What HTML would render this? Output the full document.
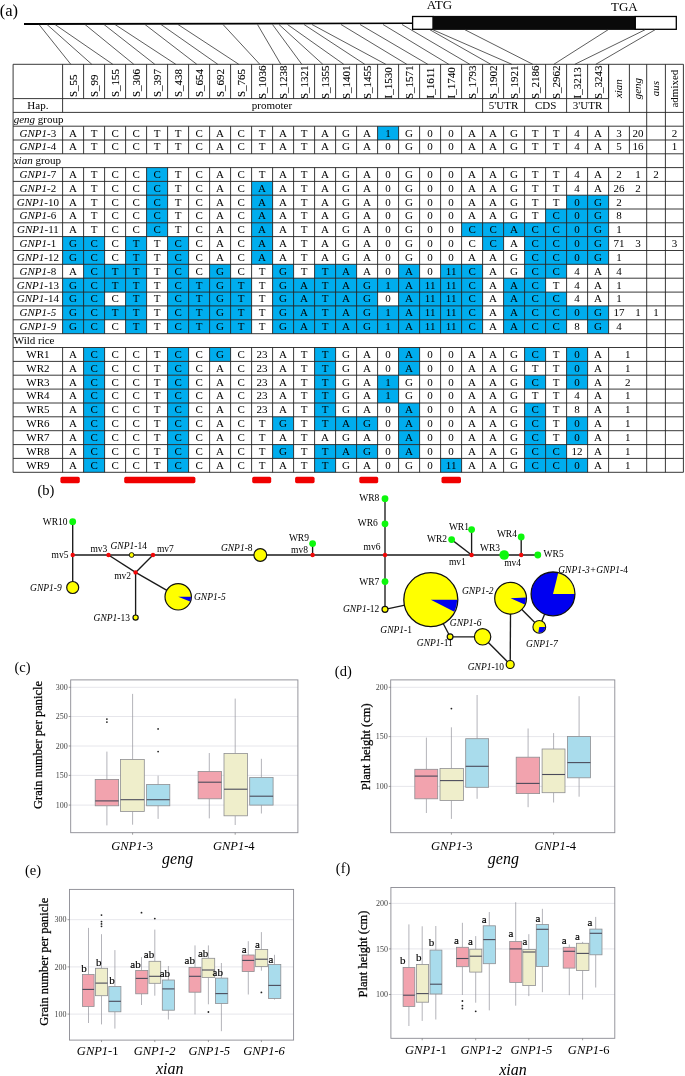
<!DOCTYPE html>
<html lang="en">
<head>
<meta charset="utf-8">
<title>GNP1 haplotype analysis</title>
<style>
html,body{margin:0;padding:0;background:#fff;}
body{width:685px;height:1076px;overflow:hidden;font-family:"Liberation Serif",serif;}
svg{display:block;}
svg text{font-family:"Liberation Serif",serif;}
</style>
</head>
<body>
<svg width="685" height="1076" viewBox="0 0 685 1076">
<rect width="685" height="1076" fill="#fff"/>
<g id="gene">
<path d="M24 23L413 22.6V24L24 25.1Z" fill="#000"/>
<rect x="412.6" y="16.5" width="20.4" height="12.8" fill="#fff" stroke="#000" stroke-width="1.3"/>
<rect x="433" y="15.9" width="202.3" height="14" fill="#0a0a0a"/>
<rect x="635.3" y="16.5" width="41" height="12.8" fill="#fff" stroke="#000" stroke-width="1.3"/>
<text x="439.5" y="9.3" font-size="13" text-anchor="middle">ATG</text>
<text x="624.3" y="10.8" font-size="13" text-anchor="middle">TGA</text>
<g stroke="#333" stroke-width="0.8">
<path d="M39 24.5L70.8 64.3"/>
<path d="M47 24.5L91.8 64.3"/>
<path d="M55 24.5L112.8 64.3"/>
<path d="M85 24.5L133.8 64.3"/>
<path d="M104 24.5L154.8 64.3"/>
<path d="M115 24.5L175.8 64.3"/>
<path d="M145 24.5L196.8 64.3"/>
<path d="M161 24.5L217.8 64.3"/>
<path d="M178 24.5L238.8 64.3"/>
<path d="M223 24.5L259.8 64.3"/>
<path d="M257.5 24.5L280.8 64.3"/>
<path d="M272.5 24.5L301.8 64.3"/>
<path d="M279 24.5L322.8 64.3"/>
<path d="M287.5 24.5L343.8 64.3"/>
<path d="M304 24.5L364.8 64.3"/>
<path d="M312 24.5L385.8 64.3"/>
<path d="M341 24.5L406.8 64.3"/>
<path d="M360 24.5L427.8 64.3"/>
<path d="M383 24.5L448.8 64.3"/>
<path d="M402 24.5L469.8 64.3"/>
<path d="M430 29.8L490.8 64.3"/>
<path d="M433 29.8L511.8 64.3"/>
<path d="M465 29.8L532.8 64.3"/>
<path d="M608 29.8L553.8 64.3"/>
<path d="M645 29.8L574.8 64.3"/>
<path d="M655 29.8L595.8 64.3"/>
</g></g>
<text x="8.8" y="16.1" font-size="16.5" text-anchor="middle">(a)</text>
<g id="table">
<g fill="#00adee">
<rect x="377.6" y="126.2" width="21" height="13.8"/>
<rect x="146.6" y="167.6" width="21" height="13.8"/>
<rect x="146.6" y="181.4" width="21" height="13.8"/>
<rect x="251.6" y="181.4" width="21" height="13.8"/>
<rect x="146.6" y="195.2" width="21" height="13.8"/>
<rect x="251.6" y="195.2" width="21" height="13.8"/>
<rect x="566.6" y="195.2" width="42" height="13.8"/>
<rect x="146.6" y="209" width="21" height="13.8"/>
<rect x="251.6" y="209" width="21" height="13.8"/>
<rect x="545.6" y="209" width="63" height="13.8"/>
<rect x="146.6" y="222.8" width="21" height="13.8"/>
<rect x="251.6" y="222.8" width="21" height="13.8"/>
<rect x="461.6" y="222.8" width="147" height="13.8"/>
<rect x="62.6" y="236.6" width="42" height="13.9"/>
<rect x="125.6" y="236.6" width="21" height="13.9"/>
<rect x="167.6" y="236.6" width="21" height="13.9"/>
<rect x="251.6" y="236.6" width="21" height="13.9"/>
<rect x="482.6" y="236.6" width="21" height="13.9"/>
<rect x="524.6" y="236.6" width="84" height="13.9"/>
<rect x="62.6" y="250.5" width="42" height="13.9"/>
<rect x="125.6" y="250.5" width="21" height="13.9"/>
<rect x="167.6" y="250.5" width="21" height="13.9"/>
<rect x="251.6" y="250.5" width="21" height="13.9"/>
<rect x="524.6" y="250.5" width="84" height="13.9"/>
<rect x="83.6" y="264.3" width="63" height="13.9"/>
<rect x="167.6" y="264.3" width="21" height="13.9"/>
<rect x="209.6" y="264.3" width="21" height="13.9"/>
<rect x="272.6" y="264.3" width="21" height="13.9"/>
<rect x="314.6" y="264.3" width="42" height="13.9"/>
<rect x="398.6" y="264.3" width="21" height="13.9"/>
<rect x="440.6" y="264.3" width="42" height="13.9"/>
<rect x="524.6" y="264.3" width="42" height="13.9"/>
<rect x="62.6" y="278.2" width="84" height="13.9"/>
<rect x="167.6" y="278.2" width="84" height="13.9"/>
<rect x="272.6" y="278.2" width="210" height="13.9"/>
<rect x="503.6" y="278.2" width="42" height="13.9"/>
<rect x="62.6" y="292.1" width="42" height="13.9"/>
<rect x="125.6" y="292.1" width="21" height="13.9"/>
<rect x="167.6" y="292.1" width="84" height="13.9"/>
<rect x="272.6" y="292.1" width="105" height="13.9"/>
<rect x="398.6" y="292.1" width="84" height="13.9"/>
<rect x="503.6" y="292.1" width="63" height="13.9"/>
<rect x="62.6" y="305.9" width="84" height="13.9"/>
<rect x="167.6" y="305.9" width="84" height="13.9"/>
<rect x="272.6" y="305.9" width="210" height="13.9"/>
<rect x="503.6" y="305.9" width="105" height="13.9"/>
<rect x="62.6" y="319.8" width="42" height="13.9"/>
<rect x="125.6" y="319.8" width="21" height="13.9"/>
<rect x="167.6" y="319.8" width="84" height="13.9"/>
<rect x="272.6" y="319.8" width="210" height="13.9"/>
<rect x="503.6" y="319.8" width="63" height="13.9"/>
<rect x="587.6" y="319.8" width="21" height="13.9"/>
<rect x="83.6" y="347.5" width="21" height="13.9"/>
<rect x="167.6" y="347.5" width="21" height="13.9"/>
<rect x="209.6" y="347.5" width="21" height="13.9"/>
<rect x="314.6" y="347.5" width="21" height="13.9"/>
<rect x="398.6" y="347.5" width="21" height="13.9"/>
<rect x="524.6" y="347.5" width="21" height="13.9"/>
<rect x="566.6" y="347.5" width="21" height="13.9"/>
<rect x="83.6" y="361.4" width="21" height="13.9"/>
<rect x="167.6" y="361.4" width="21" height="13.9"/>
<rect x="314.6" y="361.4" width="21" height="13.9"/>
<rect x="398.6" y="361.4" width="21" height="13.9"/>
<rect x="566.6" y="361.4" width="21" height="13.9"/>
<rect x="83.6" y="375.2" width="21" height="13.9"/>
<rect x="167.6" y="375.2" width="21" height="13.9"/>
<rect x="314.6" y="375.2" width="21" height="13.9"/>
<rect x="377.6" y="375.2" width="21" height="13.9"/>
<rect x="524.6" y="375.2" width="21" height="13.9"/>
<rect x="566.6" y="375.2" width="21" height="13.9"/>
<rect x="83.6" y="389.1" width="21" height="13.9"/>
<rect x="167.6" y="389.1" width="21" height="13.9"/>
<rect x="314.6" y="389.1" width="21" height="13.9"/>
<rect x="377.6" y="389.1" width="21" height="13.9"/>
<rect x="83.6" y="403" width="21" height="13.9"/>
<rect x="167.6" y="403" width="21" height="13.9"/>
<rect x="314.6" y="403" width="21" height="13.9"/>
<rect x="398.6" y="403" width="21" height="13.9"/>
<rect x="524.6" y="403" width="21" height="13.9"/>
<rect x="83.6" y="416.8" width="21" height="13.9"/>
<rect x="167.6" y="416.8" width="21" height="13.9"/>
<rect x="272.6" y="416.8" width="21" height="13.9"/>
<rect x="314.6" y="416.8" width="63" height="13.9"/>
<rect x="398.6" y="416.8" width="21" height="13.9"/>
<rect x="524.6" y="416.8" width="21" height="13.9"/>
<rect x="566.6" y="416.8" width="21" height="13.9"/>
<rect x="83.6" y="430.7" width="21" height="13.9"/>
<rect x="167.6" y="430.7" width="21" height="13.9"/>
<rect x="398.6" y="430.7" width="21" height="13.9"/>
<rect x="524.6" y="430.7" width="21" height="13.9"/>
<rect x="566.6" y="430.7" width="21" height="13.9"/>
<rect x="83.6" y="444.6" width="21" height="13.9"/>
<rect x="167.6" y="444.6" width="21" height="13.9"/>
<rect x="272.6" y="444.6" width="21" height="13.9"/>
<rect x="314.6" y="444.6" width="63" height="13.9"/>
<rect x="398.6" y="444.6" width="21" height="13.9"/>
<rect x="524.6" y="444.6" width="42" height="13.9"/>
<rect x="83.6" y="458.4" width="21" height="13.9"/>
<rect x="167.6" y="458.4" width="21" height="13.9"/>
<rect x="314.6" y="458.4" width="21" height="13.9"/>
<rect x="440.6" y="458.4" width="21" height="13.9"/>
<rect x="524.6" y="458.4" width="63" height="13.9"/>
</g>
<g stroke="#222" stroke-width="0.9" fill="none">
<path d="M13.1 64.3L683.4 64.3"/>
<path d="M13.1 98.6L608.6 98.6"/>
<path d="M13.1 112.4L683.4 112.4"/>
<path d="M13.1 126.2L683.4 126.2"/>
<path d="M13.1 140L683.4 140"/>
<path d="M13.1 153.8L683.4 153.8"/>
<path d="M13.1 167.6L683.4 167.6"/>
<path d="M13.1 181.4L683.4 181.4"/>
<path d="M13.1 195.2L683.4 195.2"/>
<path d="M13.1 209L683.4 209"/>
<path d="M13.1 222.8L683.4 222.8"/>
<path d="M13.1 236.6L683.4 236.6"/>
<path d="M13.1 250.5L683.4 250.5"/>
<path d="M13.1 264.3L683.4 264.3"/>
<path d="M13.1 278.2L683.4 278.2"/>
<path d="M13.1 292.1L683.4 292.1"/>
<path d="M13.1 305.9L683.4 305.9"/>
<path d="M13.1 319.8L683.4 319.8"/>
<path d="M13.1 333.7L683.4 333.7"/>
<path d="M13.1 347.5L683.4 347.5"/>
<path d="M13.1 361.4L683.4 361.4"/>
<path d="M13.1 375.2L683.4 375.2"/>
<path d="M13.1 389.1L683.4 389.1"/>
<path d="M13.1 403L683.4 403"/>
<path d="M13.1 416.8L683.4 416.8"/>
<path d="M13.1 430.7L683.4 430.7"/>
<path d="M13.1 444.6L683.4 444.6"/>
<path d="M13.1 458.4L683.4 458.4"/>
<path d="M13.1 472.3L683.4 472.3"/>
<path d="M13.1 64.3L13.1 472.3"/>
<path d="M683.4 64.3L683.4 472.3"/>
<path d="M646.7 64.3L646.7 472.3"/>
<path d="M665.4 64.3L665.4 472.3"/>
<path d="M62.6 64.3L62.6 98.6"/>
<path d="M83.6 64.3L83.6 98.6"/>
<path d="M104.6 64.3L104.6 98.6"/>
<path d="M125.6 64.3L125.6 98.6"/>
<path d="M146.6 64.3L146.6 98.6"/>
<path d="M167.6 64.3L167.6 98.6"/>
<path d="M188.6 64.3L188.6 98.6"/>
<path d="M209.6 64.3L209.6 98.6"/>
<path d="M230.6 64.3L230.6 98.6"/>
<path d="M251.6 64.3L251.6 98.6"/>
<path d="M272.6 64.3L272.6 98.6"/>
<path d="M293.6 64.3L293.6 98.6"/>
<path d="M314.6 64.3L314.6 98.6"/>
<path d="M335.6 64.3L335.6 98.6"/>
<path d="M356.6 64.3L356.6 98.6"/>
<path d="M377.6 64.3L377.6 98.6"/>
<path d="M398.6 64.3L398.6 98.6"/>
<path d="M419.6 64.3L419.6 98.6"/>
<path d="M440.6 64.3L440.6 98.6"/>
<path d="M461.6 64.3L461.6 98.6"/>
<path d="M482.6 64.3L482.6 98.6"/>
<path d="M503.6 64.3L503.6 98.6"/>
<path d="M524.6 64.3L524.6 98.6"/>
<path d="M545.6 64.3L545.6 98.6"/>
<path d="M566.6 64.3L566.6 98.6"/>
<path d="M587.6 64.3L587.6 98.6"/>
<path d="M608.6 64.3L608.6 98.6"/>
<path d="M608.6 64.3L608.6 112.4"/>
<path d="M629.4 64.3L629.4 112.4"/>
<path d="M62.6 98.6L62.6 112.4"/>
<path d="M482.6 98.6L482.6 112.4"/>
<path d="M524.6 98.6L524.6 112.4"/>
<path d="M566.6 98.6L566.6 112.4"/>
<path d="M62.6 126.2L62.6 153.8"/>
<path d="M83.6 126.2L83.6 153.8"/>
<path d="M104.6 126.2L104.6 153.8"/>
<path d="M125.6 126.2L125.6 153.8"/>
<path d="M146.6 126.2L146.6 153.8"/>
<path d="M167.6 126.2L167.6 153.8"/>
<path d="M188.6 126.2L188.6 153.8"/>
<path d="M209.6 126.2L209.6 153.8"/>
<path d="M230.6 126.2L230.6 153.8"/>
<path d="M251.6 126.2L251.6 153.8"/>
<path d="M272.6 126.2L272.6 153.8"/>
<path d="M293.6 126.2L293.6 153.8"/>
<path d="M314.6 126.2L314.6 153.8"/>
<path d="M335.6 126.2L335.6 153.8"/>
<path d="M356.6 126.2L356.6 153.8"/>
<path d="M377.6 126.2L377.6 153.8"/>
<path d="M398.6 126.2L398.6 153.8"/>
<path d="M419.6 126.2L419.6 153.8"/>
<path d="M440.6 126.2L440.6 153.8"/>
<path d="M461.6 126.2L461.6 153.8"/>
<path d="M482.6 126.2L482.6 153.8"/>
<path d="M503.6 126.2L503.6 153.8"/>
<path d="M524.6 126.2L524.6 153.8"/>
<path d="M545.6 126.2L545.6 153.8"/>
<path d="M566.6 126.2L566.6 153.8"/>
<path d="M587.6 126.2L587.6 153.8"/>
<path d="M608.6 126.2L608.6 153.8"/>
<path d="M62.6 167.6L62.6 333.7"/>
<path d="M83.6 167.6L83.6 333.7"/>
<path d="M104.6 167.6L104.6 333.7"/>
<path d="M125.6 167.6L125.6 333.7"/>
<path d="M146.6 167.6L146.6 333.7"/>
<path d="M167.6 167.6L167.6 333.7"/>
<path d="M188.6 167.6L188.6 333.7"/>
<path d="M209.6 167.6L209.6 333.7"/>
<path d="M230.6 167.6L230.6 333.7"/>
<path d="M251.6 167.6L251.6 333.7"/>
<path d="M272.6 167.6L272.6 333.7"/>
<path d="M293.6 167.6L293.6 333.7"/>
<path d="M314.6 167.6L314.6 333.7"/>
<path d="M335.6 167.6L335.6 333.7"/>
<path d="M356.6 167.6L356.6 333.7"/>
<path d="M377.6 167.6L377.6 333.7"/>
<path d="M398.6 167.6L398.6 333.7"/>
<path d="M419.6 167.6L419.6 333.7"/>
<path d="M440.6 167.6L440.6 333.7"/>
<path d="M461.6 167.6L461.6 333.7"/>
<path d="M482.6 167.6L482.6 333.7"/>
<path d="M503.6 167.6L503.6 333.7"/>
<path d="M524.6 167.6L524.6 333.7"/>
<path d="M545.6 167.6L545.6 333.7"/>
<path d="M566.6 167.6L566.6 333.7"/>
<path d="M587.6 167.6L587.6 333.7"/>
<path d="M608.6 167.6L608.6 333.7"/>
<path d="M62.6 347.5L62.6 472.3"/>
<path d="M83.6 347.5L83.6 472.3"/>
<path d="M104.6 347.5L104.6 472.3"/>
<path d="M125.6 347.5L125.6 472.3"/>
<path d="M146.6 347.5L146.6 472.3"/>
<path d="M167.6 347.5L167.6 472.3"/>
<path d="M188.6 347.5L188.6 472.3"/>
<path d="M209.6 347.5L209.6 472.3"/>
<path d="M230.6 347.5L230.6 472.3"/>
<path d="M251.6 347.5L251.6 472.3"/>
<path d="M272.6 347.5L272.6 472.3"/>
<path d="M293.6 347.5L293.6 472.3"/>
<path d="M314.6 347.5L314.6 472.3"/>
<path d="M335.6 347.5L335.6 472.3"/>
<path d="M356.6 347.5L356.6 472.3"/>
<path d="M377.6 347.5L377.6 472.3"/>
<path d="M398.6 347.5L398.6 472.3"/>
<path d="M419.6 347.5L419.6 472.3"/>
<path d="M440.6 347.5L440.6 472.3"/>
<path d="M461.6 347.5L461.6 472.3"/>
<path d="M482.6 347.5L482.6 472.3"/>
<path d="M503.6 347.5L503.6 472.3"/>
<path d="M524.6 347.5L524.6 472.3"/>
<path d="M545.6 347.5L545.6 472.3"/>
<path d="M566.6 347.5L566.6 472.3"/>
<path d="M587.6 347.5L587.6 472.3"/>
<path d="M608.6 347.5L608.6 472.3"/>
<path d="M629.4 126.2L629.4 153.8"/>
</g>
<clipPath id="hc"><rect x="62.6" y="64.3" width="546" height="34"/></clipPath>
<g font-size="11" clip-path="url(#hc)" stroke="#000" stroke-width="0.12">
<text transform="translate(76.8 97.0) rotate(-90)">S_55</text>
<text transform="translate(97.8 97.0) rotate(-90)">S_99</text>
<text transform="translate(118.8 97.0) rotate(-90)">S_155</text>
<text transform="translate(139.8 97.0) rotate(-90)">S_306</text>
<text transform="translate(160.8 97.0) rotate(-90)">S_397</text>
<text transform="translate(181.8 97.0) rotate(-90)">S_438</text>
<text transform="translate(202.8 97.0) rotate(-90)">S_654</text>
<text transform="translate(223.8 97.0) rotate(-90)">S_692</text>
<text transform="translate(244.8 97.0) rotate(-90)">S_765</text>
<text transform="translate(265.8 99.1) rotate(-90)">S_1036</text>
<text transform="translate(286.8 99.1) rotate(-90)">S_1238</text>
<text transform="translate(307.8 99.1) rotate(-90)">S_1321</text>
<text transform="translate(328.8 99.1) rotate(-90)">S_1355</text>
<text transform="translate(349.8 99.1) rotate(-90)">S_1401</text>
<text transform="translate(370.8 99.1) rotate(-90)">S_1455</text>
<text transform="translate(391.8 98.4) rotate(-90)">I_1530</text>
<text transform="translate(412.8 99.1) rotate(-90)">S_1571</text>
<text transform="translate(433.8 98.4) rotate(-90)">I_1611</text>
<text transform="translate(454.8 98.4) rotate(-90)">I_1740</text>
<text transform="translate(475.8 99.1) rotate(-90)">S_1793</text>
<text transform="translate(496.8 99.1) rotate(-90)">S_1902</text>
<text transform="translate(517.8 99.1) rotate(-90)">S_1921</text>
<text transform="translate(538.8 99.1) rotate(-90)">S_2186</text>
<text transform="translate(559.8 99.1) rotate(-90)">S_2962</text>
<text transform="translate(580.8 98.4) rotate(-90)">I_3213</text>
<text transform="translate(601.8 99.1) rotate(-90)">S_3243</text>
</g>
<g font-size="11" text-anchor="middle">
<text transform="translate(622.2 88.6) rotate(-90)" font-style="italic">xian</text>
<text transform="translate(641.2 88.6) rotate(-90)" font-style="italic">geng</text>
<text transform="translate(659.2 88.6) rotate(-90)" font-style="italic">aus</text>
<text transform="translate(677.8 88.6) rotate(-90)">admixed</text>
<text x="37.9" y="108.9">Hap.</text>
<text x="271.9" y="108.9">promoter</text>
<text x="503.6" y="108.9">5'UTR</text>
<text x="545.6" y="108.9">CDS</text>
<text x="587.6" y="108.9">3'UTR</text>
<text x="13.7" y="122.7" text-anchor="start"><tspan font-style="italic">geng</tspan> group</text>
<text x="37.9" y="136.5"><tspan font-style="italic">GNP1</tspan>-3</text>
<text x="73.1" y="136.5">A</text>
<text x="94.1" y="136.5">T</text>
<text x="115.1" y="136.5">C</text>
<text x="136.1" y="136.5">C</text>
<text x="157.1" y="136.5">T</text>
<text x="178.1" y="136.5">T</text>
<text x="199.1" y="136.5">C</text>
<text x="220.1" y="136.5">A</text>
<text x="241.1" y="136.5">C</text>
<text x="262.1" y="136.5">T</text>
<text x="283.1" y="136.5">A</text>
<text x="304.1" y="136.5">T</text>
<text x="325.1" y="136.5">A</text>
<text x="346.1" y="136.5">G</text>
<text x="367.1" y="136.5">A</text>
<text x="388.1" y="136.5">1</text>
<text x="409.1" y="136.5">G</text>
<text x="430.1" y="136.5">0</text>
<text x="451.1" y="136.5">0</text>
<text x="472.1" y="136.5">A</text>
<text x="493.1" y="136.5">A</text>
<text x="514.1" y="136.5">G</text>
<text x="535.1" y="136.5">T</text>
<text x="556.1" y="136.5">T</text>
<text x="577.1" y="136.5">4</text>
<text x="598.1" y="136.5">A</text>
<text x="619" y="136.5">3</text>
<text x="638" y="136.5">20</text>
<text x="674.4" y="136.5">2</text>
<text x="37.9" y="150.3"><tspan font-style="italic">GNP1</tspan>-4</text>
<text x="73.1" y="150.3">A</text>
<text x="94.1" y="150.3">T</text>
<text x="115.1" y="150.3">C</text>
<text x="136.1" y="150.3">C</text>
<text x="157.1" y="150.3">T</text>
<text x="178.1" y="150.3">T</text>
<text x="199.1" y="150.3">C</text>
<text x="220.1" y="150.3">A</text>
<text x="241.1" y="150.3">C</text>
<text x="262.1" y="150.3">T</text>
<text x="283.1" y="150.3">A</text>
<text x="304.1" y="150.3">T</text>
<text x="325.1" y="150.3">A</text>
<text x="346.1" y="150.3">G</text>
<text x="367.1" y="150.3">A</text>
<text x="388.1" y="150.3">0</text>
<text x="409.1" y="150.3">G</text>
<text x="430.1" y="150.3">0</text>
<text x="451.1" y="150.3">0</text>
<text x="472.1" y="150.3">A</text>
<text x="493.1" y="150.3">A</text>
<text x="514.1" y="150.3">G</text>
<text x="535.1" y="150.3">T</text>
<text x="556.1" y="150.3">T</text>
<text x="577.1" y="150.3">4</text>
<text x="598.1" y="150.3">A</text>
<text x="619" y="150.3">5</text>
<text x="638" y="150.3">16</text>
<text x="674.4" y="150.3">1</text>
<text x="13.7" y="164.1" text-anchor="start"><tspan font-style="italic">xian</tspan> group</text>
<text x="37.9" y="177.9"><tspan font-style="italic">GNP1</tspan>-7</text>
<text x="73.1" y="177.9">A</text>
<text x="94.1" y="177.9">T</text>
<text x="115.1" y="177.9">C</text>
<text x="136.1" y="177.9">C</text>
<text x="157.1" y="177.9">C</text>
<text x="178.1" y="177.9">T</text>
<text x="199.1" y="177.9">C</text>
<text x="220.1" y="177.9">A</text>
<text x="241.1" y="177.9">C</text>
<text x="262.1" y="177.9">T</text>
<text x="283.1" y="177.9">A</text>
<text x="304.1" y="177.9">T</text>
<text x="325.1" y="177.9">A</text>
<text x="346.1" y="177.9">G</text>
<text x="367.1" y="177.9">A</text>
<text x="388.1" y="177.9">0</text>
<text x="409.1" y="177.9">G</text>
<text x="430.1" y="177.9">0</text>
<text x="451.1" y="177.9">0</text>
<text x="472.1" y="177.9">A</text>
<text x="493.1" y="177.9">A</text>
<text x="514.1" y="177.9">G</text>
<text x="535.1" y="177.9">T</text>
<text x="556.1" y="177.9">T</text>
<text x="577.1" y="177.9">4</text>
<text x="598.1" y="177.9">A</text>
<text x="619" y="177.9">2</text>
<text x="638" y="177.9">1</text>
<text x="656" y="177.9">2</text>
<text x="37.9" y="191.7"><tspan font-style="italic">GNP1</tspan>-2</text>
<text x="73.1" y="191.7">A</text>
<text x="94.1" y="191.7">T</text>
<text x="115.1" y="191.7">C</text>
<text x="136.1" y="191.7">C</text>
<text x="157.1" y="191.7">C</text>
<text x="178.1" y="191.7">T</text>
<text x="199.1" y="191.7">C</text>
<text x="220.1" y="191.7">A</text>
<text x="241.1" y="191.7">C</text>
<text x="262.1" y="191.7">A</text>
<text x="283.1" y="191.7">A</text>
<text x="304.1" y="191.7">T</text>
<text x="325.1" y="191.7">A</text>
<text x="346.1" y="191.7">G</text>
<text x="367.1" y="191.7">A</text>
<text x="388.1" y="191.7">0</text>
<text x="409.1" y="191.7">G</text>
<text x="430.1" y="191.7">0</text>
<text x="451.1" y="191.7">0</text>
<text x="472.1" y="191.7">A</text>
<text x="493.1" y="191.7">A</text>
<text x="514.1" y="191.7">G</text>
<text x="535.1" y="191.7">T</text>
<text x="556.1" y="191.7">T</text>
<text x="577.1" y="191.7">4</text>
<text x="598.1" y="191.7">A</text>
<text x="619" y="191.7">26</text>
<text x="638" y="191.7">2</text>
<text x="37.9" y="205.5"><tspan font-style="italic">GNP1</tspan>-10</text>
<text x="73.1" y="205.5">A</text>
<text x="94.1" y="205.5">T</text>
<text x="115.1" y="205.5">C</text>
<text x="136.1" y="205.5">C</text>
<text x="157.1" y="205.5">C</text>
<text x="178.1" y="205.5">T</text>
<text x="199.1" y="205.5">C</text>
<text x="220.1" y="205.5">A</text>
<text x="241.1" y="205.5">C</text>
<text x="262.1" y="205.5">A</text>
<text x="283.1" y="205.5">A</text>
<text x="304.1" y="205.5">T</text>
<text x="325.1" y="205.5">A</text>
<text x="346.1" y="205.5">G</text>
<text x="367.1" y="205.5">A</text>
<text x="388.1" y="205.5">0</text>
<text x="409.1" y="205.5">G</text>
<text x="430.1" y="205.5">0</text>
<text x="451.1" y="205.5">0</text>
<text x="472.1" y="205.5">A</text>
<text x="493.1" y="205.5">A</text>
<text x="514.1" y="205.5">G</text>
<text x="535.1" y="205.5">T</text>
<text x="556.1" y="205.5">T</text>
<text x="577.1" y="205.5">0</text>
<text x="598.1" y="205.5">G</text>
<text x="619" y="205.5">2</text>
<text x="37.9" y="219.3"><tspan font-style="italic">GNP1</tspan>-6</text>
<text x="73.1" y="219.3">A</text>
<text x="94.1" y="219.3">T</text>
<text x="115.1" y="219.3">C</text>
<text x="136.1" y="219.3">C</text>
<text x="157.1" y="219.3">C</text>
<text x="178.1" y="219.3">T</text>
<text x="199.1" y="219.3">C</text>
<text x="220.1" y="219.3">A</text>
<text x="241.1" y="219.3">C</text>
<text x="262.1" y="219.3">A</text>
<text x="283.1" y="219.3">A</text>
<text x="304.1" y="219.3">T</text>
<text x="325.1" y="219.3">A</text>
<text x="346.1" y="219.3">G</text>
<text x="367.1" y="219.3">A</text>
<text x="388.1" y="219.3">0</text>
<text x="409.1" y="219.3">G</text>
<text x="430.1" y="219.3">0</text>
<text x="451.1" y="219.3">0</text>
<text x="472.1" y="219.3">A</text>
<text x="493.1" y="219.3">A</text>
<text x="514.1" y="219.3">G</text>
<text x="535.1" y="219.3">T</text>
<text x="556.1" y="219.3">C</text>
<text x="577.1" y="219.3">0</text>
<text x="598.1" y="219.3">G</text>
<text x="619" y="219.3">8</text>
<text x="37.9" y="233.1"><tspan font-style="italic">GNP1</tspan>-11</text>
<text x="73.1" y="233.1">A</text>
<text x="94.1" y="233.1">T</text>
<text x="115.1" y="233.1">C</text>
<text x="136.1" y="233.1">C</text>
<text x="157.1" y="233.1">C</text>
<text x="178.1" y="233.1">T</text>
<text x="199.1" y="233.1">C</text>
<text x="220.1" y="233.1">A</text>
<text x="241.1" y="233.1">C</text>
<text x="262.1" y="233.1">A</text>
<text x="283.1" y="233.1">A</text>
<text x="304.1" y="233.1">T</text>
<text x="325.1" y="233.1">A</text>
<text x="346.1" y="233.1">G</text>
<text x="367.1" y="233.1">A</text>
<text x="388.1" y="233.1">0</text>
<text x="409.1" y="233.1">G</text>
<text x="430.1" y="233.1">0</text>
<text x="451.1" y="233.1">0</text>
<text x="472.1" y="233.1">C</text>
<text x="493.1" y="233.1">C</text>
<text x="514.1" y="233.1">A</text>
<text x="535.1" y="233.1">C</text>
<text x="556.1" y="233.1">C</text>
<text x="577.1" y="233.1">0</text>
<text x="598.1" y="233.1">G</text>
<text x="619" y="233.1">1</text>
<text x="37.9" y="246.9"><tspan font-style="italic">GNP1</tspan>-1</text>
<text x="73.1" y="246.9">G</text>
<text x="94.1" y="246.9">C</text>
<text x="115.1" y="246.9">C</text>
<text x="136.1" y="246.9">T</text>
<text x="157.1" y="246.9">T</text>
<text x="178.1" y="246.9">C</text>
<text x="199.1" y="246.9">C</text>
<text x="220.1" y="246.9">A</text>
<text x="241.1" y="246.9">C</text>
<text x="262.1" y="246.9">A</text>
<text x="283.1" y="246.9">A</text>
<text x="304.1" y="246.9">T</text>
<text x="325.1" y="246.9">A</text>
<text x="346.1" y="246.9">G</text>
<text x="367.1" y="246.9">A</text>
<text x="388.1" y="246.9">0</text>
<text x="409.1" y="246.9">G</text>
<text x="430.1" y="246.9">0</text>
<text x="451.1" y="246.9">0</text>
<text x="472.1" y="246.9">C</text>
<text x="493.1" y="246.9">C</text>
<text x="514.1" y="246.9">A</text>
<text x="535.1" y="246.9">C</text>
<text x="556.1" y="246.9">C</text>
<text x="577.1" y="246.9">0</text>
<text x="598.1" y="246.9">G</text>
<text x="619" y="246.9">71</text>
<text x="638" y="246.9">3</text>
<text x="674.4" y="246.9">3</text>
<text x="37.9" y="260.8"><tspan font-style="italic">GNP1</tspan>-12</text>
<text x="73.1" y="260.8">G</text>
<text x="94.1" y="260.8">C</text>
<text x="115.1" y="260.8">C</text>
<text x="136.1" y="260.8">T</text>
<text x="157.1" y="260.8">T</text>
<text x="178.1" y="260.8">C</text>
<text x="199.1" y="260.8">C</text>
<text x="220.1" y="260.8">A</text>
<text x="241.1" y="260.8">C</text>
<text x="262.1" y="260.8">A</text>
<text x="283.1" y="260.8">A</text>
<text x="304.1" y="260.8">T</text>
<text x="325.1" y="260.8">A</text>
<text x="346.1" y="260.8">G</text>
<text x="367.1" y="260.8">A</text>
<text x="388.1" y="260.8">0</text>
<text x="409.1" y="260.8">G</text>
<text x="430.1" y="260.8">0</text>
<text x="451.1" y="260.8">0</text>
<text x="472.1" y="260.8">A</text>
<text x="493.1" y="260.8">A</text>
<text x="514.1" y="260.8">G</text>
<text x="535.1" y="260.8">C</text>
<text x="556.1" y="260.8">C</text>
<text x="577.1" y="260.8">0</text>
<text x="598.1" y="260.8">G</text>
<text x="619" y="260.8">1</text>
<text x="37.9" y="274.6"><tspan font-style="italic">GNP1</tspan>-8</text>
<text x="73.1" y="274.6">A</text>
<text x="94.1" y="274.6">C</text>
<text x="115.1" y="274.6">T</text>
<text x="136.1" y="274.6">T</text>
<text x="157.1" y="274.6">T</text>
<text x="178.1" y="274.6">C</text>
<text x="199.1" y="274.6">C</text>
<text x="220.1" y="274.6">G</text>
<text x="241.1" y="274.6">C</text>
<text x="262.1" y="274.6">T</text>
<text x="283.1" y="274.6">G</text>
<text x="304.1" y="274.6">T</text>
<text x="325.1" y="274.6">T</text>
<text x="346.1" y="274.6">A</text>
<text x="367.1" y="274.6">A</text>
<text x="388.1" y="274.6">0</text>
<text x="409.1" y="274.6">A</text>
<text x="430.1" y="274.6">0</text>
<text x="451.1" y="274.6">11</text>
<text x="472.1" y="274.6">C</text>
<text x="493.1" y="274.6">A</text>
<text x="514.1" y="274.6">G</text>
<text x="535.1" y="274.6">C</text>
<text x="556.1" y="274.6">C</text>
<text x="577.1" y="274.6">4</text>
<text x="598.1" y="274.6">A</text>
<text x="619" y="274.6">4</text>
<text x="37.9" y="288.5"><tspan font-style="italic">GNP1</tspan>-13</text>
<text x="73.1" y="288.5">G</text>
<text x="94.1" y="288.5">C</text>
<text x="115.1" y="288.5">T</text>
<text x="136.1" y="288.5">T</text>
<text x="157.1" y="288.5">T</text>
<text x="178.1" y="288.5">C</text>
<text x="199.1" y="288.5">T</text>
<text x="220.1" y="288.5">G</text>
<text x="241.1" y="288.5">T</text>
<text x="262.1" y="288.5">T</text>
<text x="283.1" y="288.5">G</text>
<text x="304.1" y="288.5">A</text>
<text x="325.1" y="288.5">T</text>
<text x="346.1" y="288.5">A</text>
<text x="367.1" y="288.5">G</text>
<text x="388.1" y="288.5">1</text>
<text x="409.1" y="288.5">A</text>
<text x="430.1" y="288.5">11</text>
<text x="451.1" y="288.5">11</text>
<text x="472.1" y="288.5">C</text>
<text x="493.1" y="288.5">A</text>
<text x="514.1" y="288.5">A</text>
<text x="535.1" y="288.5">C</text>
<text x="556.1" y="288.5">T</text>
<text x="577.1" y="288.5">4</text>
<text x="598.1" y="288.5">A</text>
<text x="619" y="288.5">1</text>
<text x="37.9" y="302.4"><tspan font-style="italic">GNP1</tspan>-14</text>
<text x="73.1" y="302.4">G</text>
<text x="94.1" y="302.4">C</text>
<text x="115.1" y="302.4">C</text>
<text x="136.1" y="302.4">T</text>
<text x="157.1" y="302.4">T</text>
<text x="178.1" y="302.4">C</text>
<text x="199.1" y="302.4">T</text>
<text x="220.1" y="302.4">G</text>
<text x="241.1" y="302.4">T</text>
<text x="262.1" y="302.4">T</text>
<text x="283.1" y="302.4">G</text>
<text x="304.1" y="302.4">A</text>
<text x="325.1" y="302.4">T</text>
<text x="346.1" y="302.4">A</text>
<text x="367.1" y="302.4">G</text>
<text x="388.1" y="302.4">0</text>
<text x="409.1" y="302.4">A</text>
<text x="430.1" y="302.4">11</text>
<text x="451.1" y="302.4">11</text>
<text x="472.1" y="302.4">C</text>
<text x="493.1" y="302.4">A</text>
<text x="514.1" y="302.4">A</text>
<text x="535.1" y="302.4">C</text>
<text x="556.1" y="302.4">C</text>
<text x="577.1" y="302.4">4</text>
<text x="598.1" y="302.4">A</text>
<text x="619" y="302.4">1</text>
<text x="37.9" y="316.2"><tspan font-style="italic">GNP1-5</tspan></text>
<text x="73.1" y="316.2">G</text>
<text x="94.1" y="316.2">C</text>
<text x="115.1" y="316.2">T</text>
<text x="136.1" y="316.2">T</text>
<text x="157.1" y="316.2">T</text>
<text x="178.1" y="316.2">C</text>
<text x="199.1" y="316.2">T</text>
<text x="220.1" y="316.2">G</text>
<text x="241.1" y="316.2">T</text>
<text x="262.1" y="316.2">T</text>
<text x="283.1" y="316.2">G</text>
<text x="304.1" y="316.2">A</text>
<text x="325.1" y="316.2">T</text>
<text x="346.1" y="316.2">A</text>
<text x="367.1" y="316.2">G</text>
<text x="388.1" y="316.2">1</text>
<text x="409.1" y="316.2">A</text>
<text x="430.1" y="316.2">11</text>
<text x="451.1" y="316.2">11</text>
<text x="472.1" y="316.2">C</text>
<text x="493.1" y="316.2">A</text>
<text x="514.1" y="316.2">A</text>
<text x="535.1" y="316.2">C</text>
<text x="556.1" y="316.2">C</text>
<text x="577.1" y="316.2">0</text>
<text x="598.1" y="316.2">G</text>
<text x="619" y="316.2">17</text>
<text x="638" y="316.2">1</text>
<text x="656" y="316.2">1</text>
<text x="37.9" y="330.1"><tspan font-style="italic">GNP1-9</tspan></text>
<text x="73.1" y="330.1">G</text>
<text x="94.1" y="330.1">C</text>
<text x="115.1" y="330.1">C</text>
<text x="136.1" y="330.1">T</text>
<text x="157.1" y="330.1">T</text>
<text x="178.1" y="330.1">C</text>
<text x="199.1" y="330.1">T</text>
<text x="220.1" y="330.1">G</text>
<text x="241.1" y="330.1">T</text>
<text x="262.1" y="330.1">T</text>
<text x="283.1" y="330.1">G</text>
<text x="304.1" y="330.1">A</text>
<text x="325.1" y="330.1">T</text>
<text x="346.1" y="330.1">A</text>
<text x="367.1" y="330.1">G</text>
<text x="388.1" y="330.1">1</text>
<text x="409.1" y="330.1">A</text>
<text x="430.1" y="330.1">11</text>
<text x="451.1" y="330.1">11</text>
<text x="472.1" y="330.1">C</text>
<text x="493.1" y="330.1">A</text>
<text x="514.1" y="330.1">A</text>
<text x="535.1" y="330.1">C</text>
<text x="556.1" y="330.1">C</text>
<text x="577.1" y="330.1">8</text>
<text x="598.1" y="330.1">G</text>
<text x="619" y="330.1">4</text>
<text x="13.7" y="344" text-anchor="start">Wild rice</text>
<text x="37.9" y="357.8">WR1</text>
<text x="73.1" y="357.8">A</text>
<text x="94.1" y="357.8">C</text>
<text x="115.1" y="357.8">C</text>
<text x="136.1" y="357.8">C</text>
<text x="157.1" y="357.8">T</text>
<text x="178.1" y="357.8">C</text>
<text x="199.1" y="357.8">C</text>
<text x="220.1" y="357.8">G</text>
<text x="241.1" y="357.8">C</text>
<text x="262.1" y="357.8">23</text>
<text x="283.1" y="357.8">A</text>
<text x="304.1" y="357.8">T</text>
<text x="325.1" y="357.8">T</text>
<text x="346.1" y="357.8">G</text>
<text x="367.1" y="357.8">A</text>
<text x="388.1" y="357.8">0</text>
<text x="409.1" y="357.8">A</text>
<text x="430.1" y="357.8">0</text>
<text x="451.1" y="357.8">0</text>
<text x="472.1" y="357.8">A</text>
<text x="493.1" y="357.8">A</text>
<text x="514.1" y="357.8">G</text>
<text x="535.1" y="357.8">C</text>
<text x="556.1" y="357.8">T</text>
<text x="577.1" y="357.8">0</text>
<text x="598.1" y="357.8">A</text>
<text x="627.7" y="357.8">1</text>
<text x="37.9" y="371.7">WR2</text>
<text x="73.1" y="371.7">A</text>
<text x="94.1" y="371.7">C</text>
<text x="115.1" y="371.7">C</text>
<text x="136.1" y="371.7">C</text>
<text x="157.1" y="371.7">T</text>
<text x="178.1" y="371.7">C</text>
<text x="199.1" y="371.7">C</text>
<text x="220.1" y="371.7">A</text>
<text x="241.1" y="371.7">C</text>
<text x="262.1" y="371.7">23</text>
<text x="283.1" y="371.7">A</text>
<text x="304.1" y="371.7">T</text>
<text x="325.1" y="371.7">T</text>
<text x="346.1" y="371.7">G</text>
<text x="367.1" y="371.7">A</text>
<text x="388.1" y="371.7">0</text>
<text x="409.1" y="371.7">A</text>
<text x="430.1" y="371.7">0</text>
<text x="451.1" y="371.7">0</text>
<text x="472.1" y="371.7">A</text>
<text x="493.1" y="371.7">A</text>
<text x="514.1" y="371.7">G</text>
<text x="535.1" y="371.7">T</text>
<text x="556.1" y="371.7">T</text>
<text x="577.1" y="371.7">0</text>
<text x="598.1" y="371.7">A</text>
<text x="627.7" y="371.7">1</text>
<text x="37.9" y="385.6">WR3</text>
<text x="73.1" y="385.6">A</text>
<text x="94.1" y="385.6">C</text>
<text x="115.1" y="385.6">C</text>
<text x="136.1" y="385.6">C</text>
<text x="157.1" y="385.6">T</text>
<text x="178.1" y="385.6">C</text>
<text x="199.1" y="385.6">C</text>
<text x="220.1" y="385.6">A</text>
<text x="241.1" y="385.6">C</text>
<text x="262.1" y="385.6">23</text>
<text x="283.1" y="385.6">A</text>
<text x="304.1" y="385.6">T</text>
<text x="325.1" y="385.6">T</text>
<text x="346.1" y="385.6">G</text>
<text x="367.1" y="385.6">A</text>
<text x="388.1" y="385.6">1</text>
<text x="409.1" y="385.6">G</text>
<text x="430.1" y="385.6">0</text>
<text x="451.1" y="385.6">0</text>
<text x="472.1" y="385.6">A</text>
<text x="493.1" y="385.6">A</text>
<text x="514.1" y="385.6">G</text>
<text x="535.1" y="385.6">C</text>
<text x="556.1" y="385.6">T</text>
<text x="577.1" y="385.6">0</text>
<text x="598.1" y="385.6">A</text>
<text x="627.7" y="385.6">2</text>
<text x="37.9" y="399.4">WR4</text>
<text x="73.1" y="399.4">A</text>
<text x="94.1" y="399.4">C</text>
<text x="115.1" y="399.4">C</text>
<text x="136.1" y="399.4">C</text>
<text x="157.1" y="399.4">T</text>
<text x="178.1" y="399.4">C</text>
<text x="199.1" y="399.4">C</text>
<text x="220.1" y="399.4">A</text>
<text x="241.1" y="399.4">C</text>
<text x="262.1" y="399.4">23</text>
<text x="283.1" y="399.4">A</text>
<text x="304.1" y="399.4">T</text>
<text x="325.1" y="399.4">T</text>
<text x="346.1" y="399.4">G</text>
<text x="367.1" y="399.4">A</text>
<text x="388.1" y="399.4">1</text>
<text x="409.1" y="399.4">G</text>
<text x="430.1" y="399.4">0</text>
<text x="451.1" y="399.4">0</text>
<text x="472.1" y="399.4">A</text>
<text x="493.1" y="399.4">A</text>
<text x="514.1" y="399.4">G</text>
<text x="535.1" y="399.4">T</text>
<text x="556.1" y="399.4">T</text>
<text x="577.1" y="399.4">4</text>
<text x="598.1" y="399.4">A</text>
<text x="627.7" y="399.4">1</text>
<text x="37.9" y="413.3">WR5</text>
<text x="73.1" y="413.3">A</text>
<text x="94.1" y="413.3">C</text>
<text x="115.1" y="413.3">C</text>
<text x="136.1" y="413.3">C</text>
<text x="157.1" y="413.3">T</text>
<text x="178.1" y="413.3">C</text>
<text x="199.1" y="413.3">C</text>
<text x="220.1" y="413.3">A</text>
<text x="241.1" y="413.3">C</text>
<text x="262.1" y="413.3">23</text>
<text x="283.1" y="413.3">A</text>
<text x="304.1" y="413.3">T</text>
<text x="325.1" y="413.3">T</text>
<text x="346.1" y="413.3">G</text>
<text x="367.1" y="413.3">A</text>
<text x="388.1" y="413.3">0</text>
<text x="409.1" y="413.3">A</text>
<text x="430.1" y="413.3">0</text>
<text x="451.1" y="413.3">0</text>
<text x="472.1" y="413.3">A</text>
<text x="493.1" y="413.3">A</text>
<text x="514.1" y="413.3">G</text>
<text x="535.1" y="413.3">C</text>
<text x="556.1" y="413.3">T</text>
<text x="577.1" y="413.3">8</text>
<text x="598.1" y="413.3">A</text>
<text x="627.7" y="413.3">1</text>
<text x="37.9" y="427.1">WR6</text>
<text x="73.1" y="427.1">A</text>
<text x="94.1" y="427.1">C</text>
<text x="115.1" y="427.1">C</text>
<text x="136.1" y="427.1">C</text>
<text x="157.1" y="427.1">T</text>
<text x="178.1" y="427.1">C</text>
<text x="199.1" y="427.1">C</text>
<text x="220.1" y="427.1">A</text>
<text x="241.1" y="427.1">C</text>
<text x="262.1" y="427.1">T</text>
<text x="283.1" y="427.1">G</text>
<text x="304.1" y="427.1">T</text>
<text x="325.1" y="427.1">T</text>
<text x="346.1" y="427.1">A</text>
<text x="367.1" y="427.1">G</text>
<text x="388.1" y="427.1">0</text>
<text x="409.1" y="427.1">A</text>
<text x="430.1" y="427.1">0</text>
<text x="451.1" y="427.1">0</text>
<text x="472.1" y="427.1">A</text>
<text x="493.1" y="427.1">A</text>
<text x="514.1" y="427.1">G</text>
<text x="535.1" y="427.1">C</text>
<text x="556.1" y="427.1">T</text>
<text x="577.1" y="427.1">0</text>
<text x="598.1" y="427.1">A</text>
<text x="627.7" y="427.1">1</text>
<text x="37.9" y="441">WR7</text>
<text x="73.1" y="441">A</text>
<text x="94.1" y="441">C</text>
<text x="115.1" y="441">C</text>
<text x="136.1" y="441">C</text>
<text x="157.1" y="441">T</text>
<text x="178.1" y="441">C</text>
<text x="199.1" y="441">C</text>
<text x="220.1" y="441">A</text>
<text x="241.1" y="441">C</text>
<text x="262.1" y="441">T</text>
<text x="283.1" y="441">A</text>
<text x="304.1" y="441">T</text>
<text x="325.1" y="441">A</text>
<text x="346.1" y="441">G</text>
<text x="367.1" y="441">A</text>
<text x="388.1" y="441">0</text>
<text x="409.1" y="441">A</text>
<text x="430.1" y="441">0</text>
<text x="451.1" y="441">0</text>
<text x="472.1" y="441">A</text>
<text x="493.1" y="441">A</text>
<text x="514.1" y="441">G</text>
<text x="535.1" y="441">C</text>
<text x="556.1" y="441">T</text>
<text x="577.1" y="441">0</text>
<text x="598.1" y="441">A</text>
<text x="627.7" y="441">1</text>
<text x="37.9" y="454.9">WR8</text>
<text x="73.1" y="454.9">A</text>
<text x="94.1" y="454.9">C</text>
<text x="115.1" y="454.9">C</text>
<text x="136.1" y="454.9">C</text>
<text x="157.1" y="454.9">T</text>
<text x="178.1" y="454.9">C</text>
<text x="199.1" y="454.9">C</text>
<text x="220.1" y="454.9">A</text>
<text x="241.1" y="454.9">C</text>
<text x="262.1" y="454.9">T</text>
<text x="283.1" y="454.9">G</text>
<text x="304.1" y="454.9">T</text>
<text x="325.1" y="454.9">T</text>
<text x="346.1" y="454.9">A</text>
<text x="367.1" y="454.9">G</text>
<text x="388.1" y="454.9">0</text>
<text x="409.1" y="454.9">A</text>
<text x="430.1" y="454.9">0</text>
<text x="451.1" y="454.9">0</text>
<text x="472.1" y="454.9">A</text>
<text x="493.1" y="454.9">A</text>
<text x="514.1" y="454.9">G</text>
<text x="535.1" y="454.9">C</text>
<text x="556.1" y="454.9">C</text>
<text x="577.1" y="454.9">12</text>
<text x="598.1" y="454.9">A</text>
<text x="627.7" y="454.9">1</text>
<text x="37.9" y="468.7">WR9</text>
<text x="73.1" y="468.7">A</text>
<text x="94.1" y="468.7">C</text>
<text x="115.1" y="468.7">C</text>
<text x="136.1" y="468.7">C</text>
<text x="157.1" y="468.7">T</text>
<text x="178.1" y="468.7">C</text>
<text x="199.1" y="468.7">C</text>
<text x="220.1" y="468.7">A</text>
<text x="241.1" y="468.7">C</text>
<text x="262.1" y="468.7">T</text>
<text x="283.1" y="468.7">A</text>
<text x="304.1" y="468.7">T</text>
<text x="325.1" y="468.7">T</text>
<text x="346.1" y="468.7">G</text>
<text x="367.1" y="468.7">A</text>
<text x="388.1" y="468.7">0</text>
<text x="409.1" y="468.7">G</text>
<text x="430.1" y="468.7">0</text>
<text x="451.1" y="468.7">11</text>
<text x="472.1" y="468.7">A</text>
<text x="493.1" y="468.7">A</text>
<text x="514.1" y="468.7">G</text>
<text x="535.1" y="468.7">C</text>
<text x="556.1" y="468.7">C</text>
<text x="577.1" y="468.7">0</text>
<text x="598.1" y="468.7">A</text>
<text x="627.7" y="468.7">1</text>
</g></g>
<g fill="#f00000">
<rect x="60.4" y="476.8" width="19.4" height="6.4" rx="1.6"/>
<rect x="124.2" y="476.8" width="71.2" height="6.4" rx="1.6"/>
<rect x="252.2" y="476.8" width="19.0" height="6.4" rx="1.6"/>
<rect x="295.1" y="476.8" width="19.5" height="6.4" rx="1.6"/>
<rect x="359.3" y="476.8" width="18.9" height="6.4" rx="1.6"/>
<rect x="441.5" y="476.8" width="19.5" height="6.4" rx="1.6"/>
</g>
<g id="network">
<g stroke="#1a1a1a" stroke-width="1.35">
<path d="M72.7 521.7L72.7 587.5"/>
<path d="M72.7 555L537.8 555"/>
<path d="M108.5 555L135.6 572.4"/>
<path d="M135.6 572.4L178.2 596.8"/>
<path d="M153 555L135.6 572.4"/>
<path d="M135.6 572.4L135.6 617.6"/>
<path d="M312.6 555L312.6 543.6"/>
<path d="M385 498.7L385 609.3"/>
<path d="M385 609.3L430.8 599.7"/>
<path d="M430.8 599.7L450.1 636.8"/>
<path d="M450.1 636.8L482.6 636.8"/>
<path d="M482.6 636.8L510.2 664.5"/>
<path d="M510.2 664.5L510.6 598.2"/>
<path d="M510.6 598.2L539.3 626.9"/>
<path d="M539.3 626.9L553 593.9"/>
<path d="M471.6 555L471.6 529.6"/>
<path d="M471.6 555L451.6 539.6"/>
<path d="M521.2 555L521.2 536.9"/>
</g>
<circle cx="72.7" cy="521.7" r="3.4" fill="#0cf80c"/>
<circle cx="312.6" cy="543.6" r="3.4" fill="#0cf80c"/>
<circle cx="385" cy="498.7" r="3.4" fill="#0cf80c"/>
<circle cx="385" cy="523.8" r="3.4" fill="#0cf80c"/>
<circle cx="385" cy="581.6" r="3.4" fill="#0cf80c"/>
<circle cx="471.6" cy="529.6" r="3.4" fill="#0cf80c"/>
<circle cx="451.6" cy="539.6" r="3.4" fill="#0cf80c"/>
<circle cx="521.2" cy="536.9" r="3.4" fill="#0cf80c"/>
<circle cx="537.8" cy="555" r="3.4" fill="#0cf80c"/>
<circle cx="504.2" cy="555" r="4.8" fill="#0cf80c"/>
<circle cx="72.7" cy="555" r="2.2" fill="#f20808"/>
<circle cx="108.5" cy="555" r="2.2" fill="#f20808"/>
<circle cx="153" cy="555" r="2.2" fill="#f20808"/>
<circle cx="135.6" cy="572.4" r="2.2" fill="#f20808"/>
<circle cx="312.6" cy="555" r="2.2" fill="#f20808"/>
<circle cx="385" cy="555" r="2.2" fill="#f20808"/>
<circle cx="471.6" cy="555" r="2.2" fill="#f20808"/>
<circle cx="521.2" cy="555" r="2.2" fill="#f20808"/>
<circle cx="131.6" cy="555" r="2.4" fill="#ffff00" stroke="#111" stroke-width="0.9"/>
<circle cx="135.6" cy="617.6" r="2.6" fill="#ffff00" stroke="#111" stroke-width="1.2"/>
<circle cx="385" cy="609.3" r="3" fill="#ffff00" stroke="#111" stroke-width="1.2"/>
<circle cx="450.1" cy="636.8" r="2.9" fill="#ffff00" stroke="#111" stroke-width="1.2"/>
<circle cx="510.2" cy="664.5" r="4" fill="#ffff00" stroke="#111" stroke-width="1.2"/>
<circle cx="72.7" cy="587.5" r="6" fill="#ffff00" stroke="#111" stroke-width="1.2"/>
<circle cx="260.3" cy="555" r="6.4" fill="#ffff00" stroke="#111" stroke-width="1.2"/>
<circle cx="482.6" cy="636.8" r="8.2" fill="#ffff00" stroke="#111" stroke-width="1.2"/>
<circle cx="178.2" cy="596.8" r="13.2" fill="#ffff00" stroke="#111" stroke-width="1.2"/>
<path d="M178.2 596.8L191.00 596.80A12.8 12.8 0 0 1 190.07 601.59Z" fill="#0000f0"/>
<circle cx="430.8" cy="599.7" r="27" fill="#ffff00" stroke="#111" stroke-width="1.3"/>
<path d="M430.8 599.7L457.20 599.70A26.4 26.4 0 0 1 454.32 611.69Z" fill="#0000f0"/>
<circle cx="510.6" cy="598.2" r="15.9" fill="#ffff00" stroke="#111" stroke-width="1.2"/>
<path d="M510.6 598.2L525.98 597.39A15.4 15.4 0 0 1 524.67 604.46Z" fill="#0000f0"/>
<circle cx="553" cy="593.9" r="21.9" fill="#0000f0" stroke="#111" stroke-width="1.3"/>
<path d="M553 593.9L558.15 573.23A21.3 21.3 0 0 1 574.30 593.90Z" fill="#ffff00"/>
<circle cx="539.3" cy="626.9" r="6.4" fill="#ffff00" stroke="#111" stroke-width="1.1"/>
<path d="M539.3 626.9L545.20 626.90A5.9 5.9 0 0 1 538.28 632.71Z" fill="#0000f0"/>
<g font-size="9.5">
<text x="42.7" y="524.9">WR10</text>
<text x="51.5" y="558">mv5</text>
<text x="90.4" y="551.8">mv3</text>
<text x="110.5" y="548.5"><tspan font-style="italic">GNP1</tspan>-14</text>
<text x="156.9" y="551.5">mv7</text>
<text x="114.2" y="578.7">mv2</text>
<text x="30.1" y="590.7"><tspan font-style="italic">GNP1-9</tspan></text>
<text x="93.6" y="620.8"><tspan font-style="italic">GNP1</tspan>-13</text>
<text x="194" y="599.9"><tspan font-style="italic">GNP1-5</tspan></text>
<text x="220.9" y="551.3"><tspan font-style="italic">GNP1</tspan>-8</text>
<text x="291" y="552.6">mv8</text>
<text x="288.9" y="541.2">WR9</text>
<text x="359.3" y="500.8">WR8</text>
<text x="357.8" y="525.8">WR6</text>
<text x="363.6" y="550.3">mv6</text>
<text x="359.3" y="585">WR7</text>
<text x="342.9" y="611.8"><tspan font-style="italic">GNP1</tspan>-12</text>
<text x="380.3" y="633"><tspan font-style="italic">GNP1</tspan>-1</text>
<text x="416.8" y="646"><tspan font-style="italic">GNP1</tspan>-11</text>
<text x="449.8" y="626.3"><tspan font-style="italic">GNP1-6</tspan></text>
<text x="448.9" y="530">WR1</text>
<text x="427" y="542.2">WR2</text>
<text x="448.9" y="565">mv1</text>
<text x="480" y="551.3">WR3</text>
<text x="504.2" y="565.7">mv4</text>
<text x="496.9" y="537.2">WR4</text>
<text x="543.6" y="557">WR5</text>
<text x="461.9" y="594.2"><tspan font-style="italic">GNP1-2</tspan></text>
<text x="558.2" y="573.1"><tspan font-style="italic">GNP1-3+GNP1</tspan>-4</text>
<text x="526.1" y="646.9"><tspan font-style="italic">GNP1-7</tspan></text>
<text x="467.7" y="669.5"><tspan font-style="italic">GNP1</tspan>-10</text>
</g>
<text x="37.5" y="495" font-size="14.5">(b)</text>
</g>
<g id="plots">
<g>
<g stroke="#e0e0e6" stroke-width="0.8">
<path d="M70.7 687.3H297.9"/>
<path d="M70.7 716.5H297.9"/>
<path d="M70.7 746H297.9"/>
<path d="M70.7 775.4H297.9"/>
<path d="M70.7 805.1H297.9"/>
</g>
<rect x="70.7" y="679.9" width="227.2" height="152.8" fill="none" stroke="#8a8a92" stroke-width="0.9"/>
<g stroke="#777" stroke-width="0.7">
<path d="M68.7 687.3H70.7"/>
<path d="M68.7 716.5H70.7"/>
<path d="M68.7 746H70.7"/>
<path d="M68.7 775.4H70.7"/>
<path d="M68.7 805.1H70.7"/>
</g>
<g font-size="8" text-anchor="end" fill="#444">
<text x="67.7" y="690">300</text>
<text x="67.7" y="719.2">250</text>
<text x="67.7" y="748.7">200</text>
<text x="67.7" y="778.1">150</text>
<text x="67.7" y="807.8">100</text>
</g>
<g stroke="#94949c" stroke-width="0.7">
<path d="M106.9 751.6V779.4M106.9 805.8V825.4"/>
<path d="M132.6 693.9V759.5M132.6 811.4V824.7"/>
<path d="M158.1 775.7V784.5M158.1 805.8V818.9"/>
<path d="M209.3 753V771.4M209.3 798.8V818.4"/>
<path d="M235.2 698.6V753.5M235.2 815.8V825"/>
<path d="M261.4 758.8V777.5M261.4 805.1V813.5"/>
</g>
<rect x="95.2" y="779.4" width="23.4" height="26.4" fill="#f2a3ae" stroke="#8e8e92" stroke-width="0.8"/>
<path d="M95.2 800.9H118.6" stroke="#4a4a5a" stroke-width="1.1"/>
<circle cx="106.9" cy="719.1" r="0.9" fill="#222"/>
<circle cx="106.9" cy="722.1" r="0.9" fill="#222"/>
<rect x="120.5" y="759.5" width="23.8" height="51.9" fill="#efeecb" stroke="#8e8e92" stroke-width="0.8"/>
<path d="M120.5 799.7H144.3" stroke="#4a4a5a" stroke-width="1.1"/>
<rect x="146.6" y="784.5" width="23.2" height="21.3" fill="#a9dcec" stroke="#8e8e92" stroke-width="0.8"/>
<path d="M146.6 799.7H169.8" stroke="#4a4a5a" stroke-width="1.1"/>
<circle cx="158.1" cy="728.9" r="0.9" fill="#222"/>
<circle cx="158.1" cy="751.6" r="0.9" fill="#222"/>
<rect x="198.1" y="771.4" width="23.3" height="27.4" fill="#f2a3ae" stroke="#8e8e92" stroke-width="0.8"/>
<path d="M198.1 782.2H221.4" stroke="#4a4a5a" stroke-width="1.1"/>
<rect x="224" y="753.5" width="23.4" height="62.3" fill="#efeecb" stroke="#8e8e92" stroke-width="0.8"/>
<path d="M224 789.2H247.4" stroke="#4a4a5a" stroke-width="1.1"/>
<rect x="249.7" y="777.5" width="23.4" height="27.6" fill="#a9dcec" stroke="#8e8e92" stroke-width="0.8"/>
<path d="M249.7 796.2H273.1" stroke="#4a4a5a" stroke-width="1.1"/>
<g stroke="#777" stroke-width="0.7">
<path d="M132.6 832.7v2"/>
<path d="M235.2 832.7v2"/>
</g>
<g font-size="11" stroke="#000" stroke-width="0.15">
</g>
<g font-size="12.5" text-anchor="middle">
<text x="132.1" y="849.7"><tspan font-style="italic">GNP1</tspan>-3</text>
<text x="233.8" y="849.7"><tspan font-style="italic">GNP1</tspan>-4</text>
<text transform="translate(42.3 745) rotate(-90)" stroke="#000" stroke-width="0.25">Grain number per panicle</text>
</g>
<text x="177.6" y="864" font-size="16" font-style="italic" text-anchor="middle">geng</text>
<text x="14.5" y="672" font-size="14.5">(c)</text>
</g>
<g>
<g stroke="#e0e0e6" stroke-width="0.8">
<path d="M390.7 687.3H614.8"/>
<path d="M390.7 736.6H614.8"/>
<path d="M390.7 786.4H614.8"/>
</g>
<rect x="390.7" y="679.9" width="224.1" height="152.8" fill="none" stroke="#8a8a92" stroke-width="0.9"/>
<g stroke="#777" stroke-width="0.7">
<path d="M388.7 687.3H390.7"/>
<path d="M388.7 736.6H390.7"/>
<path d="M388.7 786.4H390.7"/>
</g>
<g font-size="8" text-anchor="end" fill="#444">
<text x="387.7" y="690">200</text>
<text x="387.7" y="739.3">150</text>
<text x="387.7" y="789.1">100</text>
</g>
<g stroke="#94949c" stroke-width="0.7">
<path d="M426.4 737.6V769.3M426.4 798.8V813"/>
<path d="M451.4 727.3V768.6M451.4 800.4V818.9"/>
<path d="M477.1 695V738.7M477.1 787.3V798.8"/>
<path d="M528.1 728.5V757.2M528.1 793.6V807.2"/>
<path d="M553.6 733.1V749M553.6 792.7V802.5"/>
<path d="M579.1 696.2V736.4M579.1 777.8V796.7"/>
</g>
<rect x="414.8" y="769.3" width="22.9" height="29.5" fill="#f2a3ae" stroke="#8e8e92" stroke-width="0.8"/>
<path d="M414.8 776.1H437.7" stroke="#4a4a5a" stroke-width="1.1"/>
<rect x="440" y="768.6" width="23.4" height="31.8" fill="#efeecb" stroke="#8e8e92" stroke-width="0.8"/>
<path d="M440 780.6H463.4" stroke="#4a4a5a" stroke-width="1.1"/>
<circle cx="451.4" cy="708.6" r="0.9" fill="#222"/>
<rect x="465.7" y="738.7" width="22.9" height="48.6" fill="#a9dcec" stroke="#8e8e92" stroke-width="0.8"/>
<path d="M465.7 766.3H488.6" stroke="#4a4a5a" stroke-width="1.1"/>
<rect x="516.2" y="757.2" width="23.4" height="36.4" fill="#f2a3ae" stroke="#8e8e92" stroke-width="0.8"/>
<path d="M516.2 783.4H539.6" stroke="#4a4a5a" stroke-width="1.1"/>
<rect x="542.1" y="749" width="22.9" height="43.7" fill="#efeecb" stroke="#8e8e92" stroke-width="0.8"/>
<path d="M542.1 774.5H565" stroke="#4a4a5a" stroke-width="1.1"/>
<rect x="567.4" y="736.4" width="23.1" height="41.4" fill="#a9dcec" stroke="#8e8e92" stroke-width="0.8"/>
<path d="M567.4 762.6H590.5" stroke="#4a4a5a" stroke-width="1.1"/>
<g stroke="#777" stroke-width="0.7">
<path d="M451.4 832.7v2"/>
<path d="M553.6 832.7v2"/>
</g>
<g font-size="11" stroke="#000" stroke-width="0.15">
</g>
<g font-size="12.5" text-anchor="middle">
<text x="451.8" y="849.7"><tspan font-style="italic">GNP1</tspan>-3</text>
<text x="555.3" y="849.7"><tspan font-style="italic">GNP1</tspan>-4</text>
<text transform="translate(370.3 746.8) rotate(-90)" stroke="#000" stroke-width="0.25">Plant height (cm)</text>
</g>
<text x="503.4" y="864" font-size="16" font-style="italic" text-anchor="middle">geng</text>
<text x="334.8" y="675.8" font-size="14.5">(d)</text>
</g>
<g>
<g stroke="#e0e0e6" stroke-width="0.8">
<path d="M69.5 919.7H293.6"/>
<path d="M69.5 966.9H293.6"/>
<path d="M69.5 1014.1H293.6"/>
</g>
<rect x="69.5" y="889.4" width="224.1" height="150.7" fill="none" stroke="#8a8a92" stroke-width="0.9"/>
<g stroke="#777" stroke-width="0.7">
<path d="M67.5 919.7H69.5"/>
<path d="M67.5 966.9H69.5"/>
<path d="M67.5 1014.1H69.5"/>
</g>
<g font-size="8" text-anchor="end" fill="#444">
<text x="66.5" y="922.4">300</text>
<text x="66.5" y="969.6">200</text>
<text x="66.5" y="1016.8">100</text>
</g>
<g stroke="#94949c" stroke-width="0.7">
<path d="M88.5 927.9V974.6M88.5 1006.4V1023"/>
<path d="M101.5 934.2V968.3M101.5 995.7V1024.4"/>
<path d="M114.9 950.1V986.6M114.9 1011.8V1028.6"/>
<path d="M141.5 957.1V970.4M141.5 993.8V1005"/>
<path d="M154.8 929.6V961.3M154.8 983.3V995.7"/>
<path d="M168.4 966V980M168.4 1010.2V1019.5"/>
<path d="M195 945.4V967.4M195 992.2V1014.4"/>
<path d="M208.4 945.4V958.3M208.4 977.4V1004.3"/>
<path d="M221.4 963V978.1M221.4 1003.4V1031.2"/>
<path d="M248.3 941.2V955M248.3 971.6V994.5"/>
<path d="M261.4 932.1V949.4M261.4 966.5V970.7"/>
<path d="M274.5 954.8V964.6M274.5 998.5V999.6"/>
</g>
<rect x="82.4" y="974.6" width="11.7" height="31.8" fill="#f2a3ae" stroke="#8e8e92" stroke-width="0.8"/>
<path d="M82.4 989.4H94.1" stroke="#4a4a5a" stroke-width="1.1"/>
<rect x="95.5" y="968.3" width="12.1" height="27.4" fill="#efeecb" stroke="#8e8e92" stroke-width="0.8"/>
<path d="M95.5 983.1H107.6" stroke="#4a4a5a" stroke-width="1.1"/>
<circle cx="101.5" cy="915.1" r="0.9" fill="#222"/>
<circle cx="101.5" cy="921.6" r="0.9" fill="#222"/>
<circle cx="101.5" cy="923.9" r="0.9" fill="#222"/>
<circle cx="101.5" cy="926.3" r="0.9" fill="#222"/>
<rect x="108.8" y="986.6" width="12.1" height="25.2" fill="#a9dcec" stroke="#8e8e92" stroke-width="0.8"/>
<path d="M108.8 1001.3H120.9" stroke="#4a4a5a" stroke-width="1.1"/>
<rect x="135.7" y="970.4" width="12.1" height="23.4" fill="#f2a3ae" stroke="#8e8e92" stroke-width="0.8"/>
<path d="M135.7 978.4H147.8" stroke="#4a4a5a" stroke-width="1.1"/>
<circle cx="141.5" cy="912.7" r="0.9" fill="#222"/>
<rect x="149" y="961.3" width="11.7" height="22" fill="#efeecb" stroke="#8e8e92" stroke-width="0.8"/>
<path d="M149 976.3H160.7" stroke="#4a4a5a" stroke-width="1.1"/>
<circle cx="154.8" cy="918.6" r="0.9" fill="#222"/>
<rect x="162.3" y="980" width="12.1" height="30.2" fill="#a9dcec" stroke="#8e8e92" stroke-width="0.8"/>
<path d="M162.3 988.9H174.4" stroke="#4a4a5a" stroke-width="1.1"/>
<rect x="189" y="967.4" width="11.9" height="24.8" fill="#f2a3ae" stroke="#8e8e92" stroke-width="0.8"/>
<path d="M189 976.3H200.9" stroke="#4a4a5a" stroke-width="1.1"/>
<rect x="202" y="958.3" width="12.7" height="19.1" fill="#efeecb" stroke="#8e8e92" stroke-width="0.8"/>
<path d="M202 970H214.7" stroke="#4a4a5a" stroke-width="1.1"/>
<circle cx="208.4" cy="1012" r="0.9" fill="#222"/>
<rect x="215.4" y="978.1" width="12.4" height="25.3" fill="#a9dcec" stroke="#8e8e92" stroke-width="0.8"/>
<path d="M215.4 993.6H227.8" stroke="#4a4a5a" stroke-width="1.1"/>
<rect x="242.2" y="955" width="12" height="16.6" fill="#f2a3ae" stroke="#8e8e92" stroke-width="0.8"/>
<path d="M242.2 960.4H254.2" stroke="#4a4a5a" stroke-width="1.1"/>
<rect x="255.3" y="949.4" width="12.4" height="17.1" fill="#efeecb" stroke="#8e8e92" stroke-width="0.8"/>
<path d="M255.3 959.2H267.7" stroke="#4a4a5a" stroke-width="1.1"/>
<circle cx="261.4" cy="992.4" r="0.9" fill="#222"/>
<rect x="268.4" y="964.6" width="12.4" height="33.9" fill="#a9dcec" stroke="#8e8e92" stroke-width="0.8"/>
<path d="M268.4 985.4H280.8" stroke="#4a4a5a" stroke-width="1.1"/>
<g stroke="#777" stroke-width="0.7">
<path d="M101.5 1040.1v2"/>
<path d="M154.8 1040.1v2"/>
<path d="M208.4 1040.1v2"/>
<path d="M261.4 1040.1v2"/>
</g>
<g font-size="11" stroke="#000" stroke-width="0.15">
<text x="81.2" y="971.6">b</text>
<text x="96" y="966">b</text>
<text x="109.3" y="984">b</text>
<text x="130.3" y="968.1">ab</text>
<text x="143.8" y="957.6">ab</text>
<text x="159.7" y="976.5">ab</text>
<text x="184.5" y="964.1">ab</text>
<text x="197.9" y="956.7">ab</text>
<text x="212.6" y="975.8">ab</text>
<text x="241.8" y="952.9">a</text>
<text x="255.1" y="947.8">a</text>
<text x="268.6" y="963">a</text>
</g>
<g font-size="12.5" text-anchor="middle">
<text x="97.7" y="1055.3"><tspan font-style="italic">GNP1</tspan>-1</text>
<text x="154.6" y="1055.3"><tspan font-style="italic">GNP1-2</tspan></text>
<text x="209.3" y="1055.3"><tspan font-style="italic">GNP1-5</tspan></text>
<text x="264" y="1055.3"><tspan font-style="italic">GNP1-6</tspan></text>
<text transform="translate(47.5 961.7) rotate(-90)" stroke="#000" stroke-width="0.25">Grain number per panicle</text>
</g>
<text x="169.8" y="1074.3" font-size="16" font-style="italic" text-anchor="middle">xian</text>
<text x="25" y="875" font-size="14.5">(e)</text>
</g>
<g>
<g stroke="#e0e0e6" stroke-width="0.8">
<path d="M390.9 903.4H614.8"/>
<path d="M390.9 948.9H614.8"/>
<path d="M390.9 994.5H614.8"/>
</g>
<rect x="390.9" y="887.5" width="223.9" height="150.8" fill="none" stroke="#8a8a92" stroke-width="0.9"/>
<g stroke="#777" stroke-width="0.7">
<path d="M388.9 903.4H390.9"/>
<path d="M388.9 948.9H390.9"/>
<path d="M388.9 994.5H390.9"/>
</g>
<g font-size="8" text-anchor="end" fill="#444">
<text x="387.9" y="906.1">200</text>
<text x="387.9" y="951.6">150</text>
<text x="387.9" y="997.2">100</text>
</g>
<g stroke="#94949c" stroke-width="0.7">
<path d="M408.9 924.4V967.4M408.9 1006.4V1026"/>
<path d="M422.2 926.3V964.4M422.2 1002.2V1020.9"/>
<path d="M435.8 926V950.1M435.8 994V1019.5"/>
<path d="M462.4 922.8V947.3M462.4 966.7V995"/>
<path d="M475.7 936.1V949.2M475.7 972.1V1002.7"/>
<path d="M489.3 912V925.8M489.3 963.7V1010.4"/>
<path d="M515.7 902.2V941.5M515.7 982.4V1005.7"/>
<path d="M528.8 934.2V949.4M528.8 985.6V996.1"/>
<path d="M542.4 908.8V924.6M542.4 966.5V992.2"/>
<path d="M569.3 944.5V947.3M569.3 968.1V995.2"/>
<path d="M582.6 941.9V943.3M582.6 970.4V999.6"/>
<path d="M595.7 916.9V929.1M595.7 954.8V987.5"/>
</g>
<rect x="403.1" y="967.4" width="11.7" height="39" fill="#f2a3ae" stroke="#8e8e92" stroke-width="0.8"/>
<path d="M403.1 995.2H414.8" stroke="#4a4a5a" stroke-width="1.1"/>
<rect x="416.4" y="964.4" width="12.2" height="37.8" fill="#efeecb" stroke="#8e8e92" stroke-width="0.8"/>
<path d="M416.4 993.6H428.6" stroke="#4a4a5a" stroke-width="1.1"/>
<rect x="430" y="950.1" width="11.9" height="43.9" fill="#a9dcec" stroke="#8e8e92" stroke-width="0.8"/>
<path d="M430 984.2H441.9" stroke="#4a4a5a" stroke-width="1.1"/>
<rect x="456.4" y="947.3" width="12.1" height="19.4" fill="#f2a3ae" stroke="#8e8e92" stroke-width="0.8"/>
<path d="M456.4 958.5H468.5" stroke="#4a4a5a" stroke-width="1.1"/>
<circle cx="462.4" cy="1001" r="0.9" fill="#222"/>
<circle cx="462.4" cy="1005.7" r="0.9" fill="#222"/>
<circle cx="462.4" cy="1008.5" r="0.9" fill="#222"/>
<rect x="469.7" y="949.2" width="12.1" height="22.9" fill="#efeecb" stroke="#8e8e92" stroke-width="0.8"/>
<path d="M469.7 956.2H481.8" stroke="#4a4a5a" stroke-width="1.1"/>
<circle cx="475.7" cy="1011.3" r="0.9" fill="#222"/>
<rect x="483.2" y="925.8" width="12.2" height="37.9" fill="#a9dcec" stroke="#8e8e92" stroke-width="0.8"/>
<path d="M483.2 939.6H495.4" stroke="#4a4a5a" stroke-width="1.1"/>
<rect x="509.7" y="941.5" width="12.1" height="40.9" fill="#f2a3ae" stroke="#8e8e92" stroke-width="0.8"/>
<path d="M509.7 948.9H521.8" stroke="#4a4a5a" stroke-width="1.1"/>
<rect x="522.8" y="949.4" width="12.6" height="36.2" fill="#efeecb" stroke="#8e8e92" stroke-width="0.8"/>
<path d="M522.8 952H535.4" stroke="#4a4a5a" stroke-width="1.1"/>
<rect x="536.3" y="924.6" width="12.2" height="41.9" fill="#a9dcec" stroke="#8e8e92" stroke-width="0.8"/>
<path d="M536.3 929.3H548.5" stroke="#4a4a5a" stroke-width="1.1"/>
<rect x="563.2" y="947.3" width="11.9" height="20.8" fill="#f2a3ae" stroke="#8e8e92" stroke-width="0.8"/>
<path d="M563.2 951.3H575.1" stroke="#4a4a5a" stroke-width="1.1"/>
<rect x="576.5" y="943.3" width="12.4" height="27.1" fill="#efeecb" stroke="#8e8e92" stroke-width="0.8"/>
<path d="M576.5 953.4H588.9" stroke="#4a4a5a" stroke-width="1.1"/>
<rect x="589.8" y="929.1" width="12.2" height="25.7" fill="#a9dcec" stroke="#8e8e92" stroke-width="0.8"/>
<path d="M589.8 933.3H602" stroke="#4a4a5a" stroke-width="1.1"/>
<g stroke="#777" stroke-width="0.7">
<path d="M422.2 1038.3v2"/>
<path d="M475.7 1038.3v2"/>
<path d="M528.8 1038.3v2"/>
<path d="M582.6 1038.3v2"/>
</g>
<g font-size="11" stroke="#000" stroke-width="0.15">
<text x="400" y="964.1">b</text>
<text x="415.9" y="960.6">b</text>
<text x="428.8" y="945.9">b</text>
<text x="454" y="944.3">a</text>
<text x="468" y="945.4">a</text>
<text x="481.8" y="922.8">a</text>
<text x="508.5" y="937.3">a</text>
<text x="522.5" y="945">a</text>
<text x="535.6" y="922.1">a</text>
<text x="561.8" y="944.3">a</text>
<text x="574.9" y="940.1">a</text>
<text x="587.5" y="926">a</text>
</g>
<g font-size="12.5" text-anchor="middle">
<text x="425.9" y="1054.2"><tspan font-style="italic">GNP1</tspan>-1</text>
<text x="481.3" y="1054.2"><tspan font-style="italic">GNP1-2</tspan></text>
<text x="531.4" y="1054.2"><tspan font-style="italic">GNP1-5</tspan></text>
<text x="588.7" y="1054.2"><tspan font-style="italic">GNP1</tspan>-6</text>
<text transform="translate(367 954) rotate(-90)" stroke="#000" stroke-width="0.25">Plant height (cm)</text>
</g>
<text x="513" y="1074.6" font-size="16" font-style="italic" text-anchor="middle">xian</text>
<text x="335.8" y="873" font-size="14.5">(f)</text>
</g>
</g>
</svg>
</body>
</html>
